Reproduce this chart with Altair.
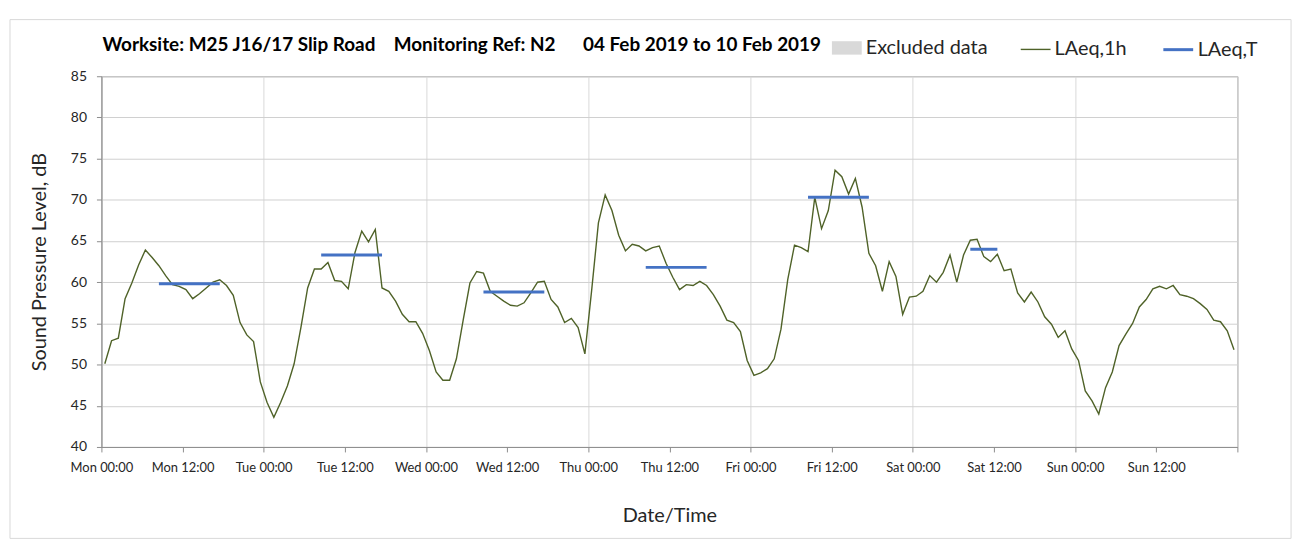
import altair as alt
import pandas as pd

FONT = "Lato"

# ---- data -------------------------------------------------------------
line_series = ["LAeq,1h", "LAeq,T"]
line_colors = ["#4f6228", "#4472c4"]
line_widths = [1.4, 3]
excluded_name = ["Excluded data"]
excluded_color = ["#d9d9d9"]

# hourly LAeq,1h (one value per hour, Mon 00:00 .. Sun 23:00)
laeq_1h_mon = [50.1, 52.9, 53.2, 58.0, 59.9, 62.1, 63.9, 63.0, 62.0, 60.8, 59.7, 59.5,
               59.1, 58.0, 58.6, 59.3, 60.0, 60.3, 59.6, 58.4, 55.1, 53.6, 52.8, 47.9]
laeq_1h_tue = [45.4, 43.6, 45.4, 47.4, 50.1, 54.5, 59.3, 61.6, 61.6, 62.4, 60.2, 60.1,
               59.2, 63.6, 66.2, 64.9, 66.4, 59.3, 58.9, 57.7, 56.1, 55.2, 55.2, 53.8]
laeq_1h_wed = [51.7, 49.1, 48.1, 48.1, 50.7, 55.4, 59.9, 61.3, 61.1, 58.9, 58.3, 57.7,
               57.2, 57.1, 57.5, 58.7, 60.0, 60.1, 57.9, 57.0, 55.1, 55.6, 54.5, 51.3]
laeq_1h_thu = [59.0, 67.2, 70.6, 68.7, 65.7, 63.8, 64.6, 64.4, 63.8, 64.2, 64.4, 62.3,
               60.6, 59.1, 59.7, 59.6, 60.1, 59.6, 58.5, 57.1, 55.4, 55.1, 54.0, 50.5]
laeq_1h_fri = [48.7, 49.0, 49.5, 50.7, 54.3, 60.3, 64.5, 64.2, 63.7, 70.3, 66.5, 68.7,
               73.6, 72.8, 70.7, 72.6, 69.1, 63.5, 62.0, 58.9, 62.5, 60.7, 56.1, 58.2]
laeq_1h_sat = [58.3, 58.9, 60.8, 60.0, 61.2, 63.3, 60.0, 63.3, 65.1, 65.2, 63.1, 62.5,
               63.4, 61.4, 61.6, 58.7, 57.6, 58.8, 57.6, 55.8, 54.9, 53.3, 54.1, 51.9]
laeq_1h_sun = [50.5, 46.8, 45.6, 44.0, 47.2, 49.1, 52.3, 53.7, 55.0, 57.0, 57.9, 59.2,
               59.5, 59.2, 59.6, 58.5, 58.3, 58.0, 57.4, 56.7, 55.4, 55.2, 54.1, 51.8]

# LAeq,T working-period levels
period_start = ["2019-02-04T08:30:00Z", "2019-02-05T08:30:00Z", "2019-02-06T08:30:00Z",
                "2019-02-07T08:30:00Z", "2019-02-08T08:30:00Z", "2019-02-09T08:30:00Z"]
period_end = ["2019-02-04T17:30:00Z", "2019-02-05T17:30:00Z", "2019-02-06T17:30:00Z",
              "2019-02-07T17:30:00Z", "2019-02-08T17:30:00Z", "2019-02-09T12:30:00Z"]
laeq_t = [59.8, 63.3, 58.8, 61.8, 70.3, 64.0]

# excluded periods (none in this week)
excluded_start = []
excluded_end = []

y_ticks = [40, 45, 50, 55, 60, 65, 70, 75, 80, 85]

NB = "\u00a0"
title_text = ("Worksite: M25 J16/17 Slip Road" + NB * 4 + "Monitoring Ref: N2"
              + NB * 6 + "04 Feb 2019 to 10 Feb 2019")

# ---- tables ------------------------------------------------------------
laeq_1h = (laeq_1h_mon + laeq_1h_tue + laeq_1h_wed + laeq_1h_thu +
           laeq_1h_fri + laeq_1h_sat + laeq_1h_sun)
times = pd.date_range("2019-02-04 00:30", periods=len(laeq_1h), freq="h")
line_df = pd.DataFrame({
    "time": [t.strftime("%Y-%m-%dT%H:%M:%SZ") for t in times],
    "level": laeq_1h,
    "series": "LAeq,1h",
})
rule_df = pd.DataFrame({
    "time": period_start, "end": period_end, "level": laeq_t, "series": "LAeq,T"
})
excl_df = pd.DataFrame({"time": excluded_start, "end": excluded_end,
                        "series": pd.Series([], dtype=str)})

x_ticks = [alt.DateTime(year=2019, month=2, date=4 + k // 2, hours=12 * (k % 2), utc=True)
           for k in range(15)]

x_scale = alt.Scale(type="utc", domain=[alt.DateTime(year=2019, month=2, date=4, utc=True),
                                        alt.DateTime(year=2019, month=2, date=11, utc=True)])
y_scale = alt.Scale(domain=[40, 85], nice=False, zero=False)

x_axis = alt.Axis(
    values=x_ticks,
    labelExpr="utcdate(datum.value) === 11 ? '' : utcFormat(datum.value, '%a %H:%M')",
    title="Date/Time", titleFont=FONT, titleFontSize=20, titleFontWeight="normal",
    titleColor="#262626", titleY=69, titleBaseline="middle",
    labelFont=FONT, labelFontSize=13, labelColor="#262626", labelPadding=10,
    labelAngle=0, labelOverlap=False, labelFlush=False,
    tickSize=5, tickColor="#8c8c8c", domainColor="#8c8c8c",
    grid=True, gridColor="#d9d9d9",
    gridOpacity={"condition": {"test": "utchours(datum.value) === 0", "value": 1}, "value": 0},
)
y_axis = alt.Axis(
    values=y_ticks, title="Sound Pressure Level, dB", titleFont=FONT, titleFontSize=20,
    titleFontWeight="normal", titleColor="#262626", titleX=-62.5, titleY=186.5,
    titleAngle=270, titleAlign="center", titleBaseline="middle",
    labelFont=FONT, labelFontSize=14, labelColor="#262626", labelPadding=10,
    tickSize=5, tickColor="#8c8c8c", domainColor="#8c8c8c",
    grid=True, gridColor="#d0d0d0",
)

line_legend = alt.Legend(
    title=None, orient="none", legendX=924, legendY=-43.5, direction="horizontal",
    symbolType="stroke", symbolSize=900, labelFont=FONT, labelFontSize=20,
    labelColor="#262626", labelOffset=3, columnPadding=30, padding=0,
)
excl_legend = alt.Legend(
    title=None, orient="none", legendX=735, legendY=-43.5, direction="horizontal",
    symbolType="M-1,-0.45H1V0.45H-1Z", symbolSize=900, symbolStrokeWidth=0,
    symbolFillColor="#d9d9d9", labelFont=FONT, labelFontSize=20,
    labelColor="#262626", labelOffset=4, padding=0,
)
color = alt.Color("series:N", scale=alt.Scale(domain=line_series, range=line_colors),
                  legend=line_legend)
width_enc = alt.StrokeWidth("series:N", scale=alt.Scale(domain=line_series, range=line_widths),
                            legend=line_legend)

x_enc = alt.X("time:T", scale=x_scale, axis=x_axis, title="Date/Time")
y_enc = alt.Y("level:Q", scale=y_scale, axis=y_axis, title="Sound Pressure Level, dB")

# light outer chart-area frame (decoration, as in the spreadsheet export)
frame = alt.Chart(alt.Data(values=[{}])).mark_rect(
    fill="transparent", stroke="#d9d9d9", strokeWidth=1
).encode(
    x=alt.value(-92), x2=alt.value(1197), y=alt.value(-57), y2=alt.value(465)
)
# chart heading, on the same row as the legend
heading = alt.Chart(alt.Data(values=[{"label": title_text}])).mark_text(
    align="left", baseline="middle", font=FONT, fontSize=19, fontWeight="bold",
    color="#000000",
).encode(
    x=alt.value(1), y=alt.value(-31), text="label:N"
)
excluded = alt.Chart(excl_df).mark_rect(opacity=1).encode(
    x=x_enc, x2="end:T",
    y=alt.datum(40, scale=y_scale), y2=alt.datum(85),
    fill=alt.Fill("series:N", scale=alt.Scale(domain=excluded_name, range=excluded_color),
                  legend=excl_legend),
)
line = alt.Chart(line_df).mark_line().encode(
    x=x_enc, y=y_enc, color=color, strokeWidth=width_enc,
)
rule = alt.Chart(rule_df).mark_rule().encode(
    x=x_enc, x2="end:T", y=y_enc, color=color, strokeWidth=width_enc,
)

chart = (
    alt.layer(frame, heading, excluded, line, rule)
    .properties(
        width=1143, height=373,
        autosize=alt.AutoSizeParams(type="none"),
        padding={"left": 94, "top": 67, "right": 64, "bottom": 101},
    )
    .configure_view(stroke="#8c8c8c", strokeWidth=1)
)

chart.save("out.html", embed_options={"renderer": "svg", "actions": False})
